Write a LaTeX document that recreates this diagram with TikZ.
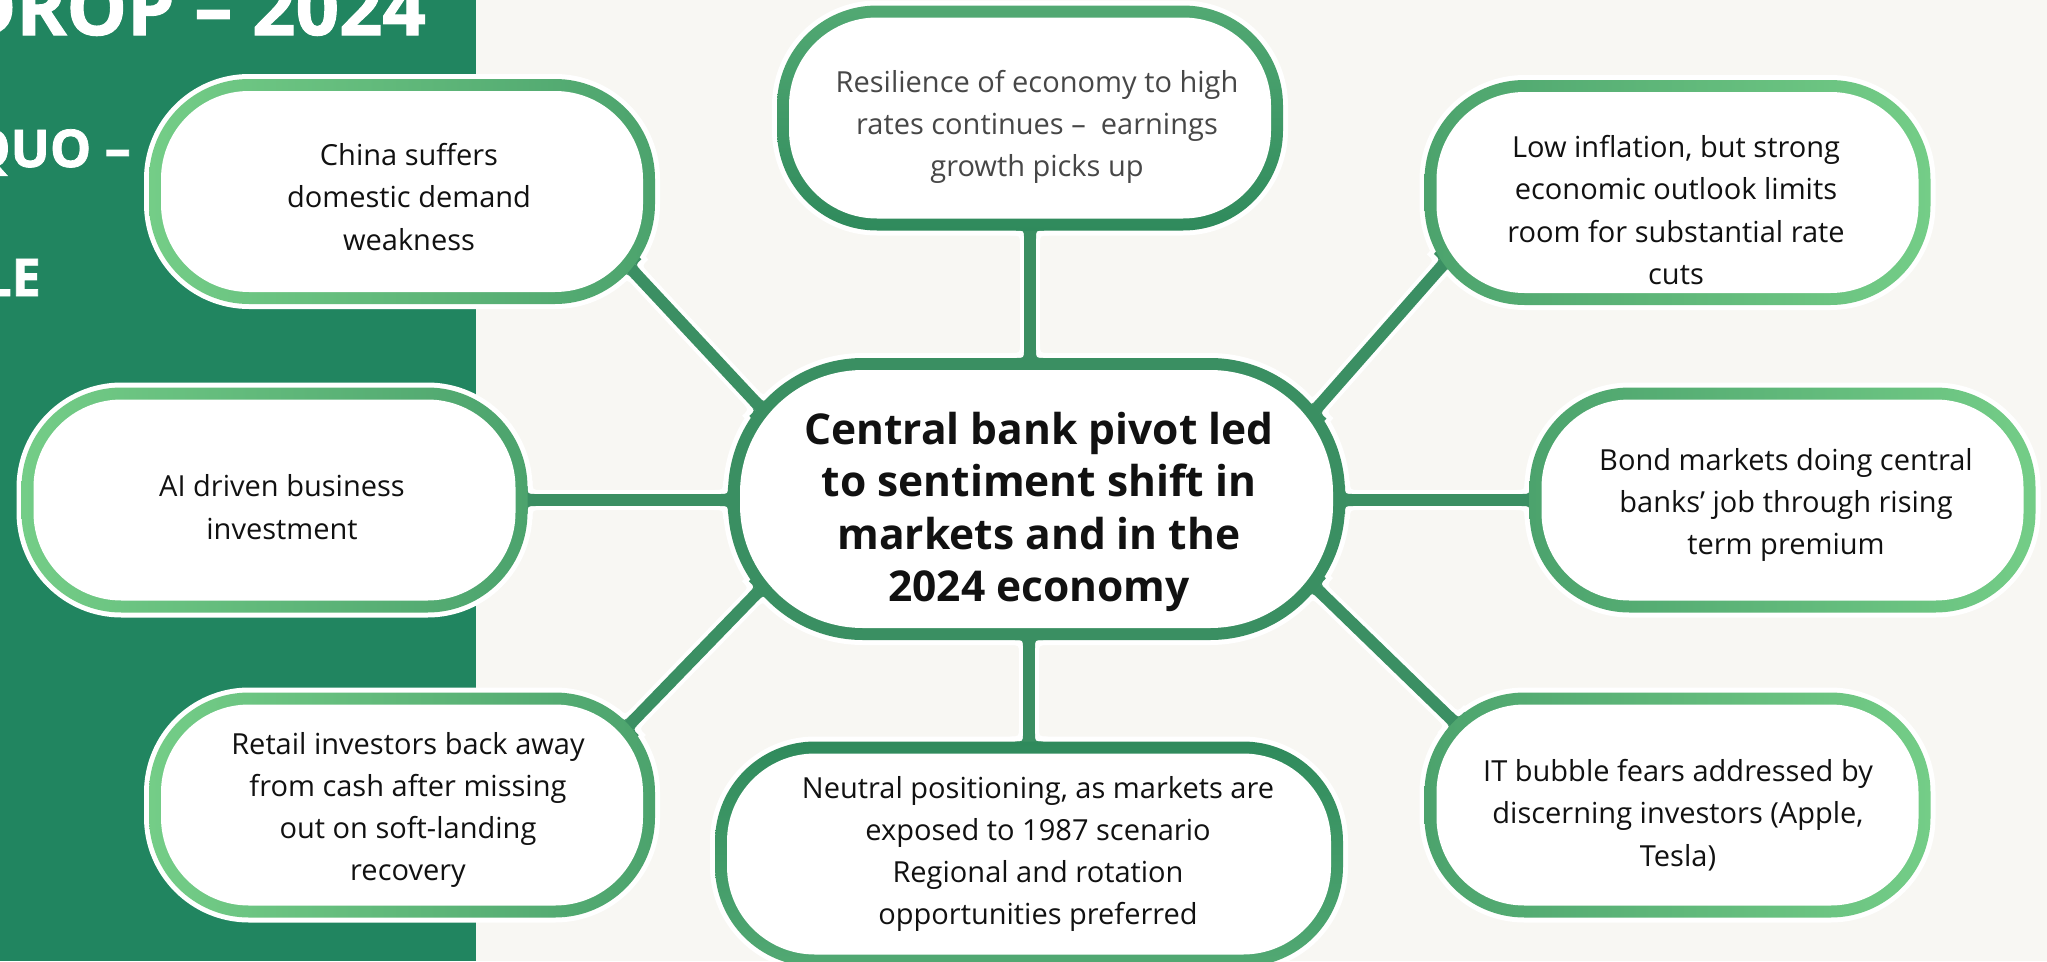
\documentclass[tikz,border=0pt]{standalone}
\usepackage{fontspec}
\setmainfont{Open Sans}
\newfontfamily\headfont{Open Sans}[FakeBold=1.4]
\usetikzlibrary{calc}

\definecolor{paper}{HTML}{F8F7F3}
\definecolor{panel}{HTML}{218560}
\definecolor{leafl}{HTML}{74CD87}
\definecolor{leafd}{HTML}{4CA36D}
\definecolor{stem}{HTML}{3B8F63}
\definecolor{hubline}{HTML}{3A8F62}
\definecolor{deep}{HTML}{2F8A5C}
\definecolor{mid}{HTML}{52A973}
\definecolor{ink}{HTML}{111111}
\definecolor{greyink}{HTML}{474747}

\pgfdeclarelayer{backdrop}
\pgfdeclarelayer{halo}
\pgfdeclarelayer{links}
\pgfsetlayers{backdrop,halo,links,main}

\begin{document}
\begin{tikzpicture}[x=1pt,y=-1pt,
  pillshape/.style={rectangle, inner sep=0pt, outer sep=0pt,
    minimum width=506pt, minimum height=225pt, rounded corners=100pt,
    path picture={\fill[white, rounded corners=88pt]
      ($(path picture bounding box.south west)+(12pt,12pt)$) rectangle
      ($(path picture bounding box.north east)+(-12pt,-12pt)$);}},
  hubshape/.style={rectangle, inner sep=0pt, outer sep=0pt,
    minimum width=617pt, minimum height=282pt, rounded corners=135pt,
    path picture={\fill[white, rounded corners=123pt]
      ($(path picture bounding box.south west)+(12pt,12pt)$) rectangle
      ($(path picture bounding box.north east)+(-12pt,-12pt)$);}},
  fadeleft/.style={left color=leafl, right color=leafd},
  faderight/.style={left color=leafd, right color=leafl},
  txt/.style={align=center, inner sep=0pt, text=ink,
    font=\fontsize{29}{42.3}\selectfont},
  hubtxt/.style={align=center, inner sep=0pt, text=ink,
    font=\fontsize{42.5}{52.4}\selectfont\bfseries},
  headtxt/.style={inner sep=0pt, text=white, anchor=base east},
  halo/.style={white, line width=10pt},
  linkhalo/.style={white, line width=20pt, shorten <=-14pt, shorten >=-14pt},
  link/.style={stem, line width=12pt, shorten <=-14pt, shorten >=-14pt},
  % flare where a spoke meets a pill: local x runs along the spoke, away from the pill
  flare/.pic={
    \fill[stem] (-10,6) -- (-10,14) -- (0,14) .. controls (0,6) .. (8,6) -- cycle;
    \fill[stem] (-10,-6) -- (-10,-14) -- (0,-14) .. controls (0,-6) .. (8,-6) -- cycle;
  },
  flarehalo/.pic={
    \fill[white] (-10,6) -- (-10,19) -- (5,19) .. controls (5,10) .. (14,10) -- (14,6) -- cycle;
    \fill[white] (-10,-6) -- (-10,-19) -- (5,-19) .. controls (5,-10) .. (14,-10) -- (14,-6) -- cycle;
  },
]
\useasboundingbox (0,0) rectangle (2047,961);

% page and side panel
\begin{pgfonlayer}{backdrop}
  \fill[paper] (0,0) rectangle (2047,961);
  \fill[panel] (0,0) rectangle (476,961);
  \node[headtxt, font=\fontsize{76}{76}\headfont\bfseries] (head1) at (426,35) {DROP – 2024};
  \node[headtxt, font=\fontsize{52}{52}\headfont\bfseries] (head2) at (131,167) {QUO –};
  \node[headtxt, font=\fontsize{52}{52}\headfont\bfseries] (head3) at (41,296) {LE};
\end{pgfonlayer}

% outer pills
\node[pillshape, fadeleft] (china) at (402,191.5) {};
\node[pillshape, top color=mid, bottom color=deep] (top) at (1030,118) {};
\node[pillshape, faderight] (lowinf) at (1677.5,192.5) {};
\node[pillshape, fadeleft] (ai) at (274.5,500) {};
\node[pillshape, faderight] (bond) at (1782.5,500) {};
\node[pillshape, fadeleft] (retail) at (402,805) {};
\node[pillshape, faderight] (itb) at (1677.5,805) {};
\node[pillshape, minimum width=628pt, top color=deep, bottom color=mid] (neutral) at (1029,854) {};
% central pill
\node[hubshape, fill=hubline] (hub) at (1036.5,499) {};

% where the slanted spokes meet the pill outlines
\coordinate (tla) at (631.1,268.8);  \coordinate (tlb) at (759.5,406.4);
\coordinate (tra) at (1444.4,263.2); \coordinate (trb) at (1315.9,409.3);
\coordinate (bla) at (628.7,725.4);  \coordinate (blb) at (759,591);
\coordinate (bra) at (1454.4,722.2); \coordinate (brb) at (1316.2,588.3);
% where the straight spokes meet them
\coordinate (ta) at (top.south);  \coordinate (tb) at (top.south |- hub.north);
\coordinate (na) at (neutral.north); \coordinate (nb) at (neutral.north |- hub.south);
\coordinate (aa) at (ai.east);   \coordinate (ab) at (ai.east -| hub.west);
\coordinate (ba) at (bond.west); \coordinate (bb) at (bond.west -| hub.east);

% white outlines behind pills and spokes
\begin{pgfonlayer}{halo}
  \foreach \p in {china,top,lowinf,ai,bond,retail,itb,neutral}
    \draw[halo, rounded corners=100pt] (\p.south west) rectangle (\p.north east);
  \draw[halo, rounded corners=135pt] (hub.south west) rectangle (hub.north east);
  \foreach \a/\b in {ta/tb, nb/na, aa/ab, bb/ba, tla/tlb, tra/trb, bla/blb, bra/brb}
    \draw[linkhalo] (\a) -- (\b);
  \foreach \c/\r in {ta/-90, tb/90, nb/-90, na/90, aa/0, ab/180, bb/0, ba/180,
                     tla/-47, tlb/133, tra/-131.3, trb/48.7,
                     bla/45.9, blb/-134.1, bra/135.9, brb/-44.1}
    \pic[rotate=\r] at (\c) {flarehalo};
\end{pgfonlayer}

% green spokes
\begin{pgfonlayer}{links}
  \foreach \a/\b in {ta/tb, nb/na, aa/ab, bb/ba, tla/tlb, tra/trb, bla/blb, bra/brb}
    \draw[link] (\a) -- (\b);
  \foreach \c/\r in {ta/-90, tb/90, nb/-90, na/90, aa/0, ab/180, bb/0, ba/180,
                     tla/-47, tlb/133, tra/-131.3, trb/48.7,
                     bla/45.9, blb/-134.1, bra/135.9, brb/-44.1}
    \pic[rotate=\r] at (\c) {flare};
\end{pgfonlayer}

% texts
\node[txt] (chinaT) at (409,197) {China suffers\\domestic demand\\weakness};
\node[txt, text=greyink] (topT) at (1037,127) {Resilience of economy to high\\rates continues –\ \ earnings\\growth picks up};
\node[txt] (lowT) at (1676,210) {Low inflation, but strong\\economic outlook limits\\room for substantial rate\\cuts};
\node[txt] (aiT) at (282,507) {AI driven business\\investment};
\node[txt] (bondT) at (1786,505) {Bond markets doing central\\banks’ job through rising\\term premium};
\node[txt] (retailT) at (408,810) {Retail investors back away\\from cash after missing\\out on soft-landing\\recovery};
\node[txt] (neutralT) at (1038,854) {Neutral positioning, as markets are\\exposed to 1987 scenario\\Regional and rotation\\opportunities preferred};
\node[txt] (itT) at (1678,815) {IT bubble fears addressed by\\discerning investors (Apple,\\Tesla)};
\node[hubtxt] (hubT) at (1039,512) {Central bank pivot led\\to sentiment shift in\\markets and in the\\2024 economy};
\end{tikzpicture}
\end{document}
